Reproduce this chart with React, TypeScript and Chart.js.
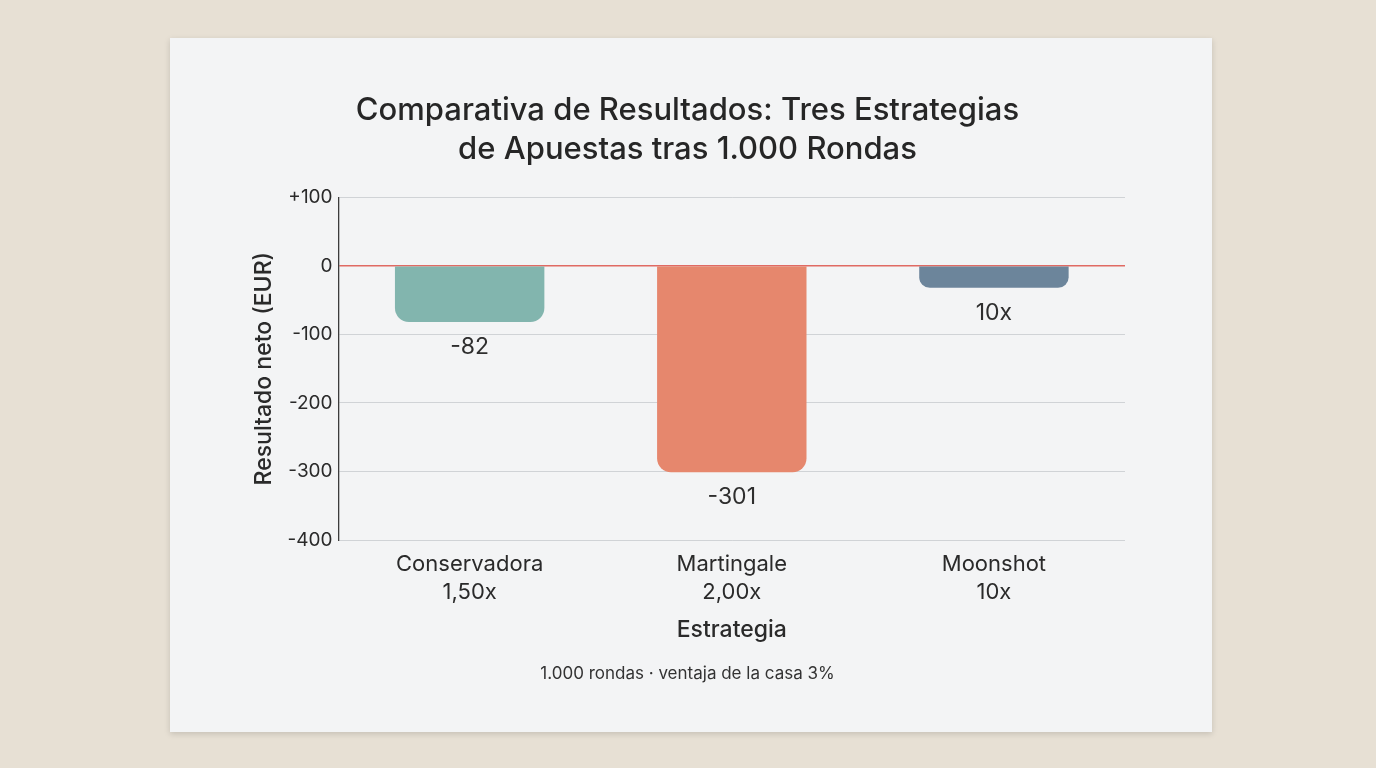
import React, { useEffect, useRef } from "react";
import { Chart, registerables } from "chart.js";

Chart.register(...registerables);

const categories: string[][] = [
  ["Conservadora", "1,50x"],
  ["Martingale", "2,00x"],
  ["Moonshot", "10x"],
];
const netResults: number[] = [-82, -301, -32];
const barLabels: string[] = ["-82", "-301", "10x"];
const barColors: string[] = ["#82b5ae", "#e6876d", "#6c859b"];
const titleLines: string[] = [
  "Comparativa de Resultados: Tres Estrategias",
  "de Apuestas tras 1.000 Rondas",
];
const subtitleText = "1.000 rondas · ventaja de la casa 3%";
const yAxisTitle = "Resultado neto (EUR)";
const xAxisTitle = "Estrategia";

const FONT = "Inter, 'Noto Sans', sans-serif";

const barLabelPlugin = {
  id: "barLabelPlugin",
  afterDatasetsDraw(chart: any) {
    const ctx = chart.ctx;
    const meta = chart.getDatasetMeta(0);
    ctx.save();
    ctx.font = `400 23px ${FONT}`;
    ctx.fillStyle = "#2e2e2e";
    ctx.textAlign = "center";
    ctx.textBaseline = "middle";
    meta.data.forEach((bar: any, i: number) => {
      ctx.fillText(barLabels[i], bar.x, bar.y + 25);
    });
    ctx.restore();
  },
};

export default function App() {
  const canvasRef = useRef<HTMLCanvasElement | null>(null);

  useEffect(() => {
    if (!canvasRef.current) return;
    const chart = new Chart(canvasRef.current, {
      type: "bar",
      data: {
        labels: categories,
        datasets: [
          {
            data: netResults,
            backgroundColor: barColors,
            borderRadius: 14,
            borderSkipped: "start",
            barPercentage: 0.76,
            categoryPercentage: 0.75,
          },
        ],
      },
      options: {
        animation: false,
        responsive: false,
        maintainAspectRatio: false,
        layout: { padding: { top: 54, left: 80, right: 87, bottom: 48 } },
        plugins: {
          legend: { display: false },
          tooltip: { enabled: false },
          title: {
            display: true,
            text: titleLines,
            color: "#262626",
            font: { family: FONT, size: 31, weight: "500", lineHeight: 1.23 },
            padding: { top: 0, bottom: 29 },
          },
          subtitle: {
            display: true,
            position: "bottom",
            text: subtitleText,
            color: "#333333",
            font: { family: FONT, size: 17, weight: "400" },
            padding: { top: 20, bottom: 0 },
          },
        },
        scales: {
          x: {
            grid: { display: false, drawTicks: false },
            border: { display: false },
            ticks: {
              color: "#2a2a2a",
              font: { family: FONT, size: 22, lineHeight: 1.27 },
              padding: 10,
            },
            title: {
              display: true,
              text: xAxisTitle,
              color: "#2a2a2a",
              font: { family: FONT, size: 23, weight: "500" },
              padding: { top: 0, bottom: 0 },
            },
          },
          y: {
            min: -400,
            max: 100,
            grid: {
              drawTicks: false,
              color: (c: any) => (c.tick && c.tick.value === 0 ? "#e06a63" : "#d0d3d6"),
              lineWidth: (c: any) => (c.tick && c.tick.value === 0 ? 1.5 : 1),
            },
            border: { display: true, color: "#3c3c3c", width: 1.3 },
            ticks: {
              stepSize: 100,
              color: "#2a2a2a",
              font: { family: FONT, size: 19 },
              padding: 6,
              callback: (v: any) => (v > 0 ? `+${v}` : `${v}`),
            },
            title: {
              display: true,
              text: yAxisTitle,
              color: "#2a2a2a",
              font: { family: FONT, size: 23, weight: "500" },
              padding: { top: 0, bottom: 4 },
            },
          },
        },
      },
      plugins: [barLabelPlugin],
    });
    return () => chart.destroy();
  }, []);

  return (
    <div style={{ position: "fixed", inset: 0, background: "#e7e0d4", overflow: "hidden" }}>
      <div
        style={{
          position: "absolute",
          left: 170,
          top: 38,
          width: 1042,
          height: 694,
          background: "#f3f4f5",
          boxShadow: "0 2px 6px rgba(0,0,0,0.15)",
        }}
      >
        <canvas ref={canvasRef} width={1042} height={694} style={{ display: "block" }} />
      </div>
    </div>
  );
}
